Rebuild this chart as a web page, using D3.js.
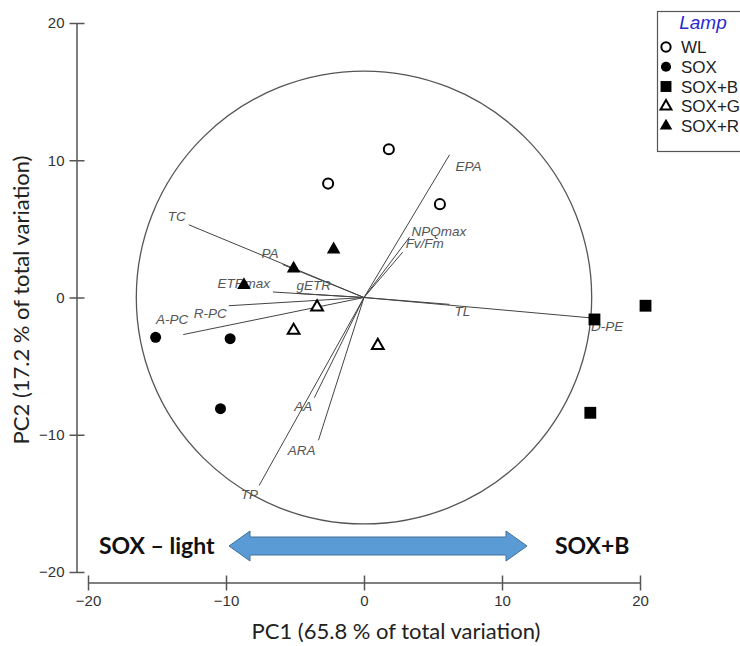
<!DOCTYPE html>
<html>
<head>
<meta charset="utf-8">
<script src="https://cdn.jsdelivr.net/npm/d3@7"></script>
<style>
  html, body { margin: 0; padding: 0; background: #fff; }
  svg { display: block; }
</style>
</head>
<body>
<svg id="chart" width="740" height="646"></svg>
<script>
// PCA scores: one entry per sample
const scoreLamp = ["WL", "WL", "WL", "SOX", "SOX", "SOX", "SOX+B", "SOX+B", "SOX+B",
                   "SOX+G", "SOX+G", "SOX+G", "SOX+R", "SOX+R", "SOX+R"];
const scorePC1 = [-2.6, 1.8, 5.5, -15.1, -9.7, -10.4, 16.7, 20.4, 16.4, -3.4, -5.1, 1.0, -2.2, -5.1, -8.7];
const scorePC2 = [8.3, 10.8, 6.8, -2.9, -3.0, -8.1, -1.6, -0.6, -8.4, -0.7, -2.4, -3.5, 3.5, 2.1, 0.9];

// Variable loadings (biplot vectors)
const varNames = ["TC", "PA", "ETRmax", "gETR", "R-PC", "A-PC", "EPA", "NPQmax", "Fv/Fm", "TL", "D-PE", "AA", "ARA", "TP"];
const varPC1 = [-12.7, -5.9, -6.6, -4.9, -9.8, -13.1, 6.2, 3.3, 2.8, 6.2, 16.6, -3.6, -3.3, -7.6];
const varPC2 = [5.3, 2.4, 0.4, 0.3, -0.6, -2.7, 10.4, 4.4, 3.3, -0.5, -1.5, -7.3, -10.4, -13.7];

// Equilibrium circle radius (PC units)
const circleRadius = 16.5;

// Axes
const xTicks = [-20, -10, 0, 10, 20];
const yTicks = [-20, -10, 0, 10, 20];
const xTitle = "PC1 (65.8 % of total variation)";
const yTitle = "PC2 (17.2 % of total variation)";

// Legend and annotation
const legendTitle = "Lamp";
const legendLamps = ["WL", "SOX", "SOX+B", "SOX+G", "SOX+R"];
const arrowLeftText = "SOX \u2013 light";
const arrowRightText = "SOX+B";

// ---- layout ----
const svg = d3.select("#chart");
const x = d3.scaleLinear().domain([-20, 20]).range([88, 640]);
const y = d3.scaleLinear().domain([-20, 20]).range([572, 23]);

const markerStyle = {
  "WL":    { type: d3.symbolCircle,   size: 80,  fill: "#fff", stroke: "#000", sw: 2 },
  "SOX":   { type: d3.symbolCircle,   size: 95,  fill: "#000", stroke: "#000", sw: 0 },
  "SOX+B": { type: d3.symbolSquare,   size: 140, fill: "#000", stroke: "#000", sw: 0 },
  "SOX+G": { type: d3.symbolTriangle, size: 60,  fill: "#fff", stroke: "#000", sw: 2 },
  "SOX+R": { type: d3.symbolTriangle, size: 80,  fill: "#000", stroke: "#000", sw: 0 }
};

// label placement relative to each vector tip: [anchor, dx, dy]
const labelPlace = {
  "TC": ["end", -3, -3.5], "PA": ["end", -4, -7], "ETRmax": ["end", -3, -4.5],
  "gETR": ["start", 0, -3], "R-PC": ["end", -2, 12.5], "A-PC": ["end", 5, -10.5],
  "EPA": ["start", 6, 16], "NPQmax": ["start", 2, -1.5], "Fv/Fm": ["start", 3, -4],
  "TL": ["start", 5, 11.5], "D-PE": ["start", -2, 13], "AA": ["end", -2, 13.5],
  "ARA": ["end", -3, 14.5], "TP": ["end", -1, 13]
};

// y axis
const yAxis = d3.axisLeft(y).tickValues(yTicks).tickSize(7.5).tickPadding(5).tickFormat(d3.format("d"));
const gy = svg.append("g").attr("transform", "translate(77,0)").call(yAxis);
gy.select(".domain").attr("d", `M0,${y(20)}V${y(-20)}`);
gy.selectAll(".tick line").attr("x1", 7.5);

// x axis
const xAxis = d3.axisBottom(x).tickValues(xTicks).tickSize(7.5).tickPadding(5).tickFormat(d3.format("d"));
const gx = svg.append("g").attr("transform", "translate(0,583)").call(xAxis);
gx.select(".domain").attr("d", `M${x(-20)},0H${x(20)}`);
gx.selectAll(".tick line").attr("y1", -7.5);

[gx, gy].forEach(g => {
  g.selectAll(".domain, .tick line").attr("stroke", "#555").attr("stroke-width", 1.5);
  g.selectAll(".tick text").attr("fill", "#333")
    .style("font-family", "'Liberation Sans', Arial, sans-serif").style("font-size", "15px");
});

// axis titles
svg.append("text").attr("x", 396).attr("y", 639).attr("text-anchor", "middle")
  .style("font-family", "Lato, 'Open Sans', sans-serif").style("font-size", "22px").attr("fill", "#222")
  .text(xTitle);
svg.append("text").attr("transform", "translate(29,300) rotate(-90)").attr("text-anchor", "middle")
  .style("font-family", "Lato, 'Open Sans', sans-serif").style("font-size", "22px").attr("fill", "#222")
  .text(yTitle);

// correlation circle
svg.append("ellipse")
  .attr("cx", x(0)).attr("cy", y(0))
  .attr("rx", x(circleRadius) - x(0)).attr("ry", y(0) - y(circleRadius))
  .attr("fill", "none").attr("stroke", "#555").attr("stroke-width", 1.3);

// loading vectors
const vars = varNames.map((n, i) => ({ name: n, pc1: varPC1[i], pc2: varPC2[i] }));
svg.append("g").selectAll("line").data(vars).join("line")
  .attr("x1", x(0)).attr("y1", y(0))
  .attr("x2", d => x(d.pc1)).attr("y2", d => y(d.pc2))
  .attr("stroke", "#444").attr("stroke-width", 1);

svg.append("g").selectAll("text").data(vars).join("text")
  .attr("x", d => x(d.pc1) + labelPlace[d.name][1])
  .attr("y", d => y(d.pc2) + labelPlace[d.name][2])
  .attr("text-anchor", d => labelPlace[d.name][0])
  .style("font-family", "'Liberation Sans', Arial, sans-serif").style("font-size", "13.5px")
  .style("font-style", "italic").attr("fill", "#555")
  .text(d => d.name);

// sample scores
const scores = scoreLamp.map((l, i) => ({ lamp: l, pc1: scorePC1[i], pc2: scorePC2[i] }));
const sym = d3.symbol();
svg.append("g").selectAll("path").data(scores).join("path")
  .attr("transform", d => `translate(${x(d.pc1)},${y(d.pc2)})`)
  .attr("d", d => sym.type(markerStyle[d.lamp].type).size(markerStyle[d.lamp].size)())
  .attr("fill", d => markerStyle[d.lamp].fill)
  .attr("stroke", d => markerStyle[d.lamp].stroke)
  .attr("stroke-width", d => markerStyle[d.lamp].sw);

// double-headed arrow
const arrowY = 546;
const ax0 = 229, ax1 = 527, headLen = 21, headHalf = 15, shaftHalf = 9;
const arrowPath = d3.path();
arrowPath.moveTo(ax0, arrowY);
arrowPath.lineTo(ax0 + headLen, arrowY - headHalf);
arrowPath.lineTo(ax0 + headLen, arrowY - shaftHalf);
arrowPath.lineTo(ax1 - headLen, arrowY - shaftHalf);
arrowPath.lineTo(ax1 - headLen, arrowY - headHalf);
arrowPath.lineTo(ax1, arrowY);
arrowPath.lineTo(ax1 - headLen, arrowY + headHalf);
arrowPath.lineTo(ax1 - headLen, arrowY + shaftHalf);
arrowPath.lineTo(ax0 + headLen, arrowY + shaftHalf);
arrowPath.lineTo(ax0 + headLen, arrowY + headHalf);
arrowPath.closePath();
svg.append("path").attr("d", arrowPath.toString())
  .attr("fill", "#5b9bd5").attr("stroke", "#41719c").attr("stroke-width", 1);

svg.append("text").attr("x", 99).attr("y", arrowY + 8)
  .style("font-family", "Lato, 'Open Sans', sans-serif").style("font-size", "23px").style("font-weight", "bold")
  .attr("fill", "#111").text(arrowLeftText);
svg.append("text").attr("x", 555).attr("y", arrowY + 8)
  .style("font-family", "Lato, 'Open Sans', sans-serif").style("font-size", "23px").style("font-weight", "bold")
  .attr("fill", "#111").text(arrowRightText);

// legend
const lg = svg.append("g");
lg.append("rect").attr("x", 657.5).attr("y", 11.5).attr("width", 120).attr("height", 140)
  .attr("fill", "#fff").attr("stroke", "#555").attr("stroke-width", 1.2);
lg.append("text").attr("x", 703).attr("y", 29).attr("text-anchor", "middle")
  .style("font-family", "'Liberation Sans', Arial, sans-serif").style("font-size", "19px")
  .style("font-style", "italic").attr("fill", "#2a2ad0").text(legendTitle);
const legendRow = d3.scaleLinear().domain([0, 4]).range([47, 126]);
legendLamps.forEach((l, i) => {
  const m = markerStyle[l];
  lg.append("path").attr("transform", `translate(666,${legendRow(i)})`)
    .attr("d", sym.type(m.type).size(m.size * 0.85)())
    .attr("fill", m.fill).attr("stroke", m.stroke).attr("stroke-width", m.sw);
  lg.append("text").attr("x", 681).attr("y", legendRow(i) + 6)
    .style("font-family", "'Liberation Sans', Arial, sans-serif").style("font-size", "17px")
    .attr("fill", "#222").text(l);
});
</script>
</body>
</html>
